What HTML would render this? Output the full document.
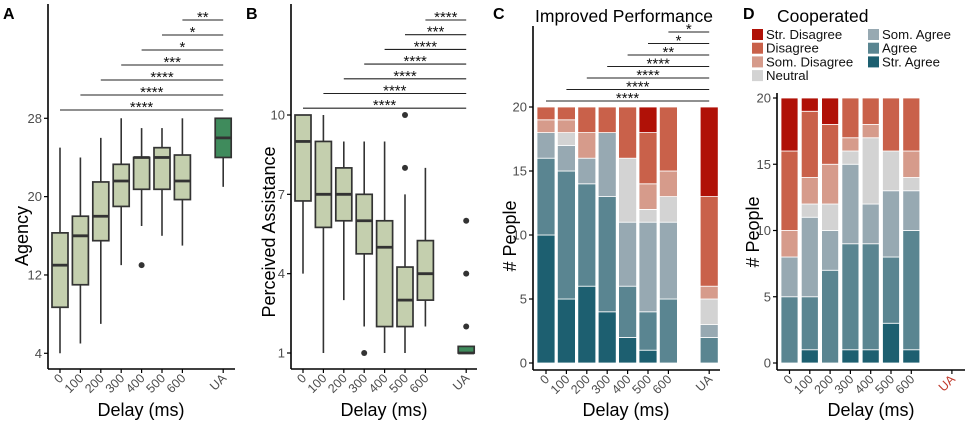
<!DOCTYPE html>
<html><head><meta charset="utf-8"><style>
body{margin:0;background:#fff;}
svg{display:block;font-family:"Liberation Sans",sans-serif;}
</style></head><body>
<svg id="fig" width="969" height="427" viewBox="0 0 969 427"></svg>
<script>
// ---------- Data ----------
const delays = ["0","100","200","300","400","500","600","UA"];
// Panel A: Agency boxplots [low, q1, median, q3, high]
const agencyLow  = [4, 5, 7, 13, 17, 16, 15, 21];
const agencyQ1   = [8.7, 11, 15.5, 19, 20.75, 20.75, 19.7, 24];
const agencyMed  = [13, 16, 18, 21.6, 24, 24, 21.6, 26];
const agencyQ3   = [16.3, 18, 21.5, 23.3, 24, 25, 24.25, 28];
const agencyHigh = [25, 24, 26, 28, 27, 27, 28, 28];
const agencyOutliers = [[], [], [], [], [13], [], [], []];
const agencyTicks = [4, 12, 20, 28];
const agencySig = ["****","****","****","***","*","*","**"];
// Panel B: Perceived Assistance
const assistLow  = [4, 1, 3, 2, 1, 1, 2, 1];
const assistQ1   = [6.75, 5.75, 6, 4.75, 2, 2, 3, 1];
const assistMed  = [9, 7, 7, 6, 5, 3, 4, 1];
const assistQ3   = [10, 9, 8, 7, 6, 4.25, 5.25, 1.25];
const assistHigh = [10, 10, 9, 9, 9, 7, 8, 1.25];
const assistOutliers = [[], [], [], [1], [], [10, 8], [], [6, 4, 2]];
const assistTicks = [1, 4, 7, 10];
const assistSig = ["****","****","****","****","****","***","****"];
// Likert categories (bottom -> top)
const likertCats = ["Str. Agree","Agree","Som. Agree","Neutral","Som. Disagree","Disagree","Str. Disagree"];
const likertColors = ["#1d5f70","#5a8591","#97a9b2","#d3d3d3","#d69b8b","#c9614a","#b01107"];
// Panel C: Improved Performance counts per delay [StrA, Agr, SomA, Neu, SomD, Dis, StrD]
const perfCounts = [
  [10,6,2,0,1,1,0],
  [5,10,2,1,1,1,0],
  [6,8,2,0,2,2,0],
  [4,9,5,0,0,2,0],
  [2,4,5,5,0,4,0],
  [1,3,7,1,2,4,2],
  [0,5,6,2,2,5,0],
  [0,2,1,2,1,7,7]
];
const perfSig = ["****","****","****","****","**","*","*"];
// Panel D: Cooperated
const coopCounts = [
  [0,5,3,0,2,6,4],
  [1,4,6,1,2,5,1],
  [0,7,3,2,3,3,2],
  [1,8,6,1,1,3,0],
  [1,8,3,5,1,2,0],
  [3,5,5,3,0,4,0],
  [1,9,3,1,2,4,0],
  [0,0,0,0,0,0,0]
];
const countTicks = [0,5,10,15,20];

// ---------- helpers ----------
const NS="http://www.w3.org/2000/svg";
const svg=document.getElementById('fig');
function mk(tag,attrs,parent,txt){const e=document.createElementNS(NS,tag);for(const k in attrs)e.setAttribute(k,attrs[k]);if(txt!==undefined)e.textContent=txt;(parent||svg).appendChild(e);return e;}
function grp(name){const g=mk('g',{});return g;}
function lin(d0,d1,r0,r1){return v=>r0+(v-d0)/(d1-d0)*(r1-r0);}
function catX(x0,step){return i=>x0+(i===7?8:i)*step;}

function axes(g,ax,ayTop,ayBot,axRight,ticks,ys,xs,xColorLast){
  const yl=mk('line',{x1:ax,y1:ayTop,x2:ax,y2:ayBot,stroke:'#000','stroke-width':1.6},g);
  
  const xl=mk('line',{x1:ax,y1:ayBot,x2:axRight,y2:ayBot,stroke:'#000','stroke-width':1.6},g);
  
  ticks.forEach(t=>{
    mk('line',{x1:ax-4,y1:ys(t),x2:ax,y2:ys(t),stroke:'#000','stroke-width':1.2},g);
    const tl=mk('text',{x:ax-6,y:ys(t)+4.5,'text-anchor':'end','font-size':13,fill:'#4d4d4d'},g,String(t));
    
  });
  delays.forEach((d,i)=>{
    const x=xs(i);
    mk('line',{x1:x,y1:ayBot,x2:x,y2:ayBot+4,stroke:'#000','stroke-width':1.2},g);
    const tl=mk('text',{x:x+4,y:ayBot+10,'text-anchor':'end','font-size':12.5,fill:(xColorLast&&i===7)?'#c0392b':'#4d4d4d',transform:`rotate(-45 ${x+4} ${ayBot+10})`},g,d);
    
  });
}
function sigBars(g,labels,xs,yTop,dy){
  labels.forEach((s,k)=>{
    const i=k; const y=yTop+(6-k)*dy;
    const x1=xs(i),x2=xs(7);
    const l=mk('line',{x1:x1,y1:y,x2:x2,y2:y,stroke:'#222','stroke-width':1.1},g);
    
    const t=mk('text',{x:(x1+x2)/2,y:y+2,'text-anchor':'middle','font-size':15,fill:'#111'},g,s);
    
  });
}
function boxes(g,xs,ys,low,q1,med,q3,high,outs){
  delays.forEach((d,i)=>{
    const x=xs(i),hw=8,ua=i===7;
    const w=mk('line',{x1:x,y1:ys(low[i]),x2:x,y2:ys(high[i]),stroke:'#333','stroke-width':1.6},g);
    
    const b=mk('rect',{x:x-hw,y:ys(q3[i]),width:2*hw,height:Math.max(ys(q1[i])-ys(q3[i]),0.5),fill:ua?'#3f8b5c':'#c4cfae',stroke:'#333','stroke-width':1.7},g);
    
    const m=mk('line',{x1:x-hw,y1:ys(med[i]),x2:x+hw,y2:ys(med[i]),stroke:'#333','stroke-width':2.8},g);
    
    outs[i].forEach(o=>{
      const c=mk('circle',{cx:x,cy:ys(o),r:3,fill:'#333'},g);
      
    });
  });
}
function stacks(g,xs,ys,counts,bw){
  counts.forEach((row,i)=>{
    let acc=0;
    row.forEach((c,k)=>{
      if(c<=0)return;
      const r=mk('rect',{x:xs(i)-bw/2,y:ys(acc+c),width:bw,height:ys(acc)-ys(acc+c),fill:likertColors[k],stroke:'#fff','stroke-width':0.8},g);
      
      
      acc+=c;
    });
  });
}
function text(g,name,attrs,s){const t=mk('text',attrs,g,s);return t;}

// ---------- Panel A ----------
{
  const g=grp('panel-a');
  const ys=lin(4,28,353.3,118.3), xs=catX(60,20.4);
  text(g,'panel-letter-a',{x:3,y:19,'font-size':16,'font-weight':'bold'},'A');
  axes(g,48,4,369,235,agencyTicks,ys,xs);
  sigBars(g,agencySig,xs,20,15);
  boxes(g,xs,ys,agencyLow,agencyQ1,agencyMed,agencyQ3,agencyHigh,agencyOutliers);
  text(g,'y-axis-title',{x:28,y:236,'font-size':18,'text-anchor':'middle',transform:'rotate(-90 28 236)'},'Agency');
  text(g,'x-axis-title',{x:141,y:416,'font-size':18,'text-anchor':'middle'},'Delay (ms)');
}
// ---------- Panel B ----------
{
  const g=grp('panel-b');
  const ys=lin(1,10,353,115), xs=catX(303,20.4);
  text(g,'panel-letter-b',{x:246,y:19,'font-size':16,'font-weight':'bold'},'B');
  axes(g,291,4,369,477,assistTicks,ys,xs);
  sigBars(g,assistSig,xs,20,14.7);
  boxes(g,xs,ys,assistLow,assistQ1,assistMed,assistQ3,assistHigh,assistOutliers);
  text(g,'y-axis-title',{x:275,y:232,'font-size':18,'text-anchor':'middle',transform:'rotate(-90 275 232)'},'Perceived Assistance');
  text(g,'x-axis-title',{x:384,y:416,'font-size':18,'text-anchor':'middle'},'Delay (ms)');
}
// ---------- Panel C ----------
{
  const g=grp('panel-c');
  const ys=lin(0,20,363,107), xs=catX(546,20.4);
  text(g,'panel-letter-c',{x:493,y:19,'font-size':16,'font-weight':'bold'},'C');
  text(g,'chart-title-c',{x:535,y:22,'font-size':17.5},'Improved Performance');
  stacks(g,xs,ys,perfCounts,18);
  axes(g,533,26,370,720,countTicks,ys,xs);
  sigBars(g,perfSig,xs,32,11.5);
  text(g,'y-axis-title',{x:516,y:236,'font-size':18,'text-anchor':'middle',transform:'rotate(-90 516 236)'},'# People');
  text(g,'x-axis-title',{x:626,y:416,'font-size':18,'text-anchor':'middle'},'Delay (ms)');
}
// ---------- Panel D ----------
{
  const g=grp('panel-d');
  const ys=lin(0,20,363,98), xs=catX(789.5,20.3);
  text(g,'panel-letter-d',{x:743,y:19,'font-size':16,'font-weight':'bold'},'D');
  text(g,'chart-title-d',{x:777,y:22,'font-size':17.5},'Cooperated');
  stacks(g,xs,ys,coopCounts,17);
  axes(g,777,93,370,965,countTicks,ys,xs,true);
  text(g,'y-axis-title',{x:759,y:232,'font-size':18,'text-anchor':'middle',transform:'rotate(-90 759 232)'},'# People');
  text(g,'x-axis-title',{x:871,y:416,'font-size':18,'text-anchor':'middle'},'Delay (ms)');
  // legend
  const lg=grp('legend');
  const order=[6,5,4,3,2,1,0];
  order.forEach((k,j)=>{
    const col=j<4?0:1,row=j<4?j:j-4;
    const x=col?868:752,y=29+row*13.7;
    const s=mk('rect',{x:x,y:y,width:11,height:11,fill:likertColors[k]},lg);
    
    const t=mk('text',{x:x+14,y:y+10,'font-size':13.2,fill:'#111'},lg,likertCats[k]);
    
  });
}
</script>
</body></html>
